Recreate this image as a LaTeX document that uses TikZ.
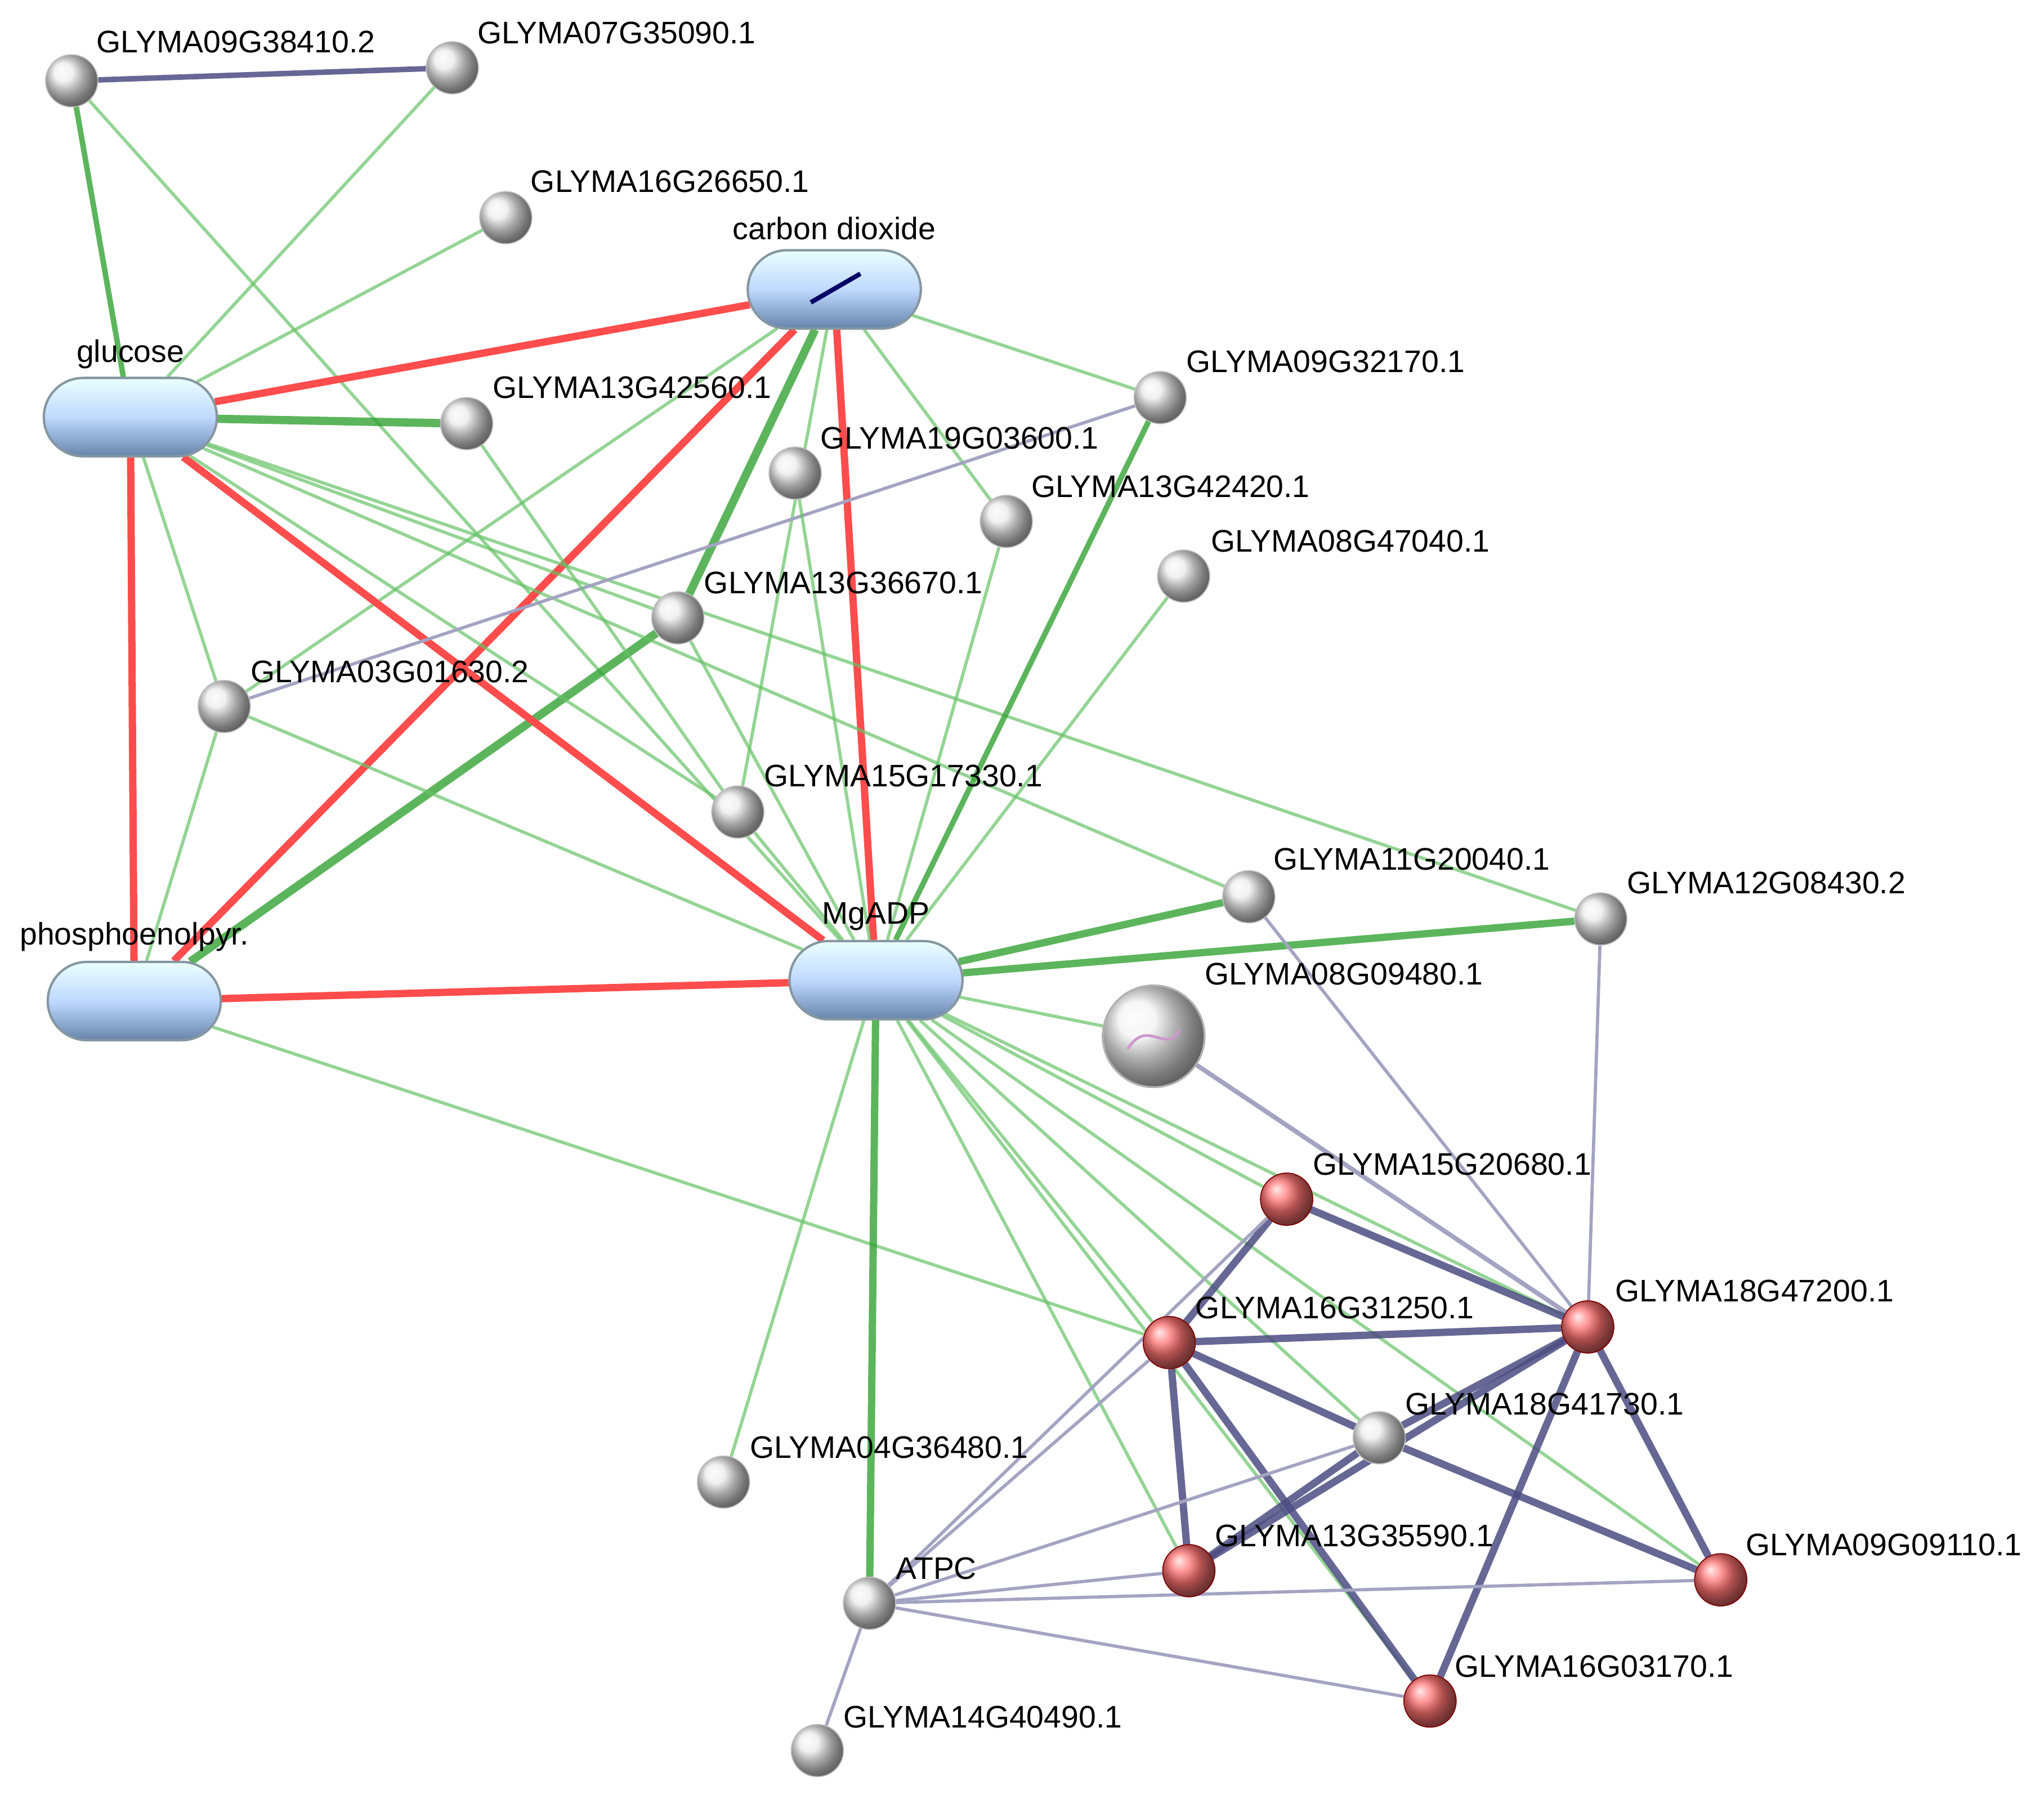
\documentclass[tikz,border=0pt]{standalone}
\usepackage{fontspec}
\setmainfont{Liberation Sans}
\usetikzlibrary{shapes.misc}
\begin{document}
\begin{tikzpicture}[x=0.01cm,y=-0.01cm,
 sp/.style={circle,minimum size=0.40cm,inner sep=0,ball color=white!85!gray,draw=gray!50,line width=0.2pt},
 rsp/.style={circle,minimum size=0.40cm,inner sep=0,ball color=red!55!white,draw=red!50!black,line width=0.2pt},
 pill/.style={rounded rectangle,minimum width=1.56cm,minimum height=0.6cm,draw=cyan!30!black!60,line width=0.5pt,top color=cyan!8!white,bottom color=cyan!45!blue!45!black!60,middle color=cyan!40!blue!25},
 lb/.style={font=\fontsize{6.8}{8}\selectfont,anchor=south west,inner sep=1pt},
 G/.style={draw=green!55!black!80,line width=1.2pt,opacity=.8},
 g/.style={draw=green!60!black!60,line width=0.7pt,opacity=.7},
 R/.style={draw=red!70,line width=1.6pt},
 D/.style={draw=blue!30!black!70,line width=1.6pt,opacity=.85},
 L/.style={draw=blue!20!gray!60,line width=0.7pt}]
\useasboundingbox (0,0) rectangle (1568,1387);
% nodes
\node[sp] (a) at (55,62) {}; \node[sp] (b) at (347,52) {}; \node[sp] (c) at (388,167) {};
\node[pill] (co2) at (640,222) {}; \node[pill] (glu) at (100,320) {};
\node[sp] (d) at (358,325) {}; \node[sp] (e) at (890,305) {}; \node[sp] (f) at (610,363) {};
\node[sp] (h) at (772,400) {}; \node[sp] (i) at (908,442) {}; \node[sp] (j) at (520,474) {};
\node[sp] (k) at (172,542) {}; \node[sp] (l) at (566,623) {}; \node[sp] (m) at (958,688) {};
\node[sp] (n) at (1228,705) {}; \node[pill] (pep) at (103,768) {}; \node[pill] (mg) at (672,752) {};
\node[circle,minimum size=0.78cm,inner sep=0,ball color=white!90!gray,draw=gray!60] (o) at (885,795) {};
\node[rsp] (p) at (987,920) {}; \node[rsp] (q) at (897,1030) {}; \node[rsp] (r) at (1218,1018) {};
\node[sp] (s) at (1058,1103) {}; \node[sp] (t) at (555,1137) {}; \node[sp] (u) at (667,1230) {};
\node[rsp] (v) at (912,1205) {}; \node[rsp] (w) at (1320,1212) {}; \node[rsp] (x) at (1097,1305) {};
\node[sp] (y) at (627,1343) {};
% edges
\draw[D,line width=1.2pt] (a)--(b); \draw[G] (a)--(glu); \draw[g] (b)--(glu); \draw[g] (a)--(mg);
\draw[g] (c)--(glu); \draw[R] (co2)--(glu); \draw[g] (co2)--(e); \draw[g] (co2)--(h);
\draw[R] (co2)--(mg); \draw[R] (co2)--(pep); \draw[G,line width=1.8pt] (co2)--(j); \draw[G,line width=1.8pt] (j)--(pep);
\draw[g] (co2)--(k); \draw[g] (co2)--(l); \draw[G,line width=1.8pt] (glu)--(d); \draw[R] (glu)--(mg);
\draw[R] (glu)--(pep); \draw[g] (glu)--(k); \draw[g] (glu)--(l); \draw[g] (glu)--(m); \draw[g] (glu)--(n);
\draw[g] (glu)--(j); \draw[L] (k)--(e); \draw[g] (d)--(l); \draw[g] (f)--(mg); \draw[g] (j)--(mg);
\draw[g] (k)--(pep); \draw[g] (k)--(mg); \draw[G] (e)--(mg); \draw[g] (h)--(mg); \draw[g] (i)--(mg);
\draw[g] (l)--(mg); \draw[G,line width=1.6pt] (m)--(mg); \draw[G,line width=1.6pt] (n)--(mg);
\draw[L] (m)--(r); \draw[L] (n)--(r); \draw[R] (pep)--(mg); \draw[g] (pep)--(q);
\draw[g] (mg)--(o); \draw[L,line width=1pt] (o)--(r);
\foreach \z in {p,r,s,w,v,q,x,t} \draw[g] (mg)--(\z);
\draw[G,line width=1.6pt] (mg)--(u);
\draw[D] (p)--(r); \draw[D] (p)--(q); \draw[D] (q)--(r); \draw[D] (q)--(s); \draw[D] (q)--(v); \draw[D] (q)--(x);
\draw[D] (r)--(s); \draw[D] (r)--(v); \draw[D] (r)--(w); \draw[D] (r)--(x); \draw[D] (s)--(w); \draw[D] (s)--(v);
\foreach \z in {s,q,p,v,w,x,y} \draw[L] (u)--(\z);
% redraw nodes on top
\foreach \z/\st in {a/sp,b/sp,c/sp,d/sp,e/sp,f/sp,h/sp,i/sp,j/sp,k/sp,l/sp,m/sp,n/sp,s/sp,t/sp,u/sp,y/sp,p/rsp,q/rsp,r/rsp,v/rsp,w/rsp,x/rsp}
 \node[\st] at (\z) {};
\node[circle,minimum size=0.78cm,inner sep=0,ball color=white!90!gray,draw=gray!60] at (o) {};
\draw[violet!40,line width=0.6pt] (865,805) .. controls (880,780) and (895,810) .. (905,790);
\node[pill] at (co2) {}; \node[pill] at (glu) {}; \node[pill] at (pep) {}; \node[pill] at (mg) {};
\draw[blue!40!black,line width=1pt] (622,232)--(660,210);
% labels
\node[lb] at (70,45) {GLYMA09G38410.2}; \node[lb] at (362,38) {GLYMA07G35090.1};
\node[lb] at (403,152) {GLYMA16G26650.1}; \node[lb,anchor=south] at (640,188) {carbon dioxide};
\node[lb,anchor=south] at (100,287) {glucose}; \node[lb] at (374,310) {GLYMA13G42560.1};
\node[lb] at (906,290) {GLYMA09G32170.1}; \node[lb] at (625,349) {GLYMA19G03600.1};
\node[lb] at (787,386) {GLYMA13G42420.1}; \node[lb] at (925,428) {GLYMA08G47040.1};
\node[lb] at (536,460) {GLYMA13G36670.1}; \node[lb] at (188,528) {GLYMA03G01630.2};
\node[lb] at (582,608) {GLYMA15G17330.1}; \node[lb] at (973,672) {GLYMA11G20040.1};
\node[lb] at (1244,690) {GLYMA12G08430.2}; \node[lb,anchor=south] at (103,734) {phosphoenolpyr.};
\node[lb,anchor=south] at (672,718) {MgADP}; \node[lb] at (920,760) {GLYMA08G09480.1};
\node[lb] at (1003,906) {GLYMA15G20680.1}; \node[lb] at (913,1016) {GLYMA16G31250.1};
\node[lb] at (1235,1003) {GLYMA18G47200.1}; \node[lb] at (1074,1090) {GLYMA18G41730.1};
\node[lb] at (571,1123) {GLYMA04G36480.1}; \node[lb] at (683,1216) {ATPC};
\node[lb] at (928,1191) {GLYMA13G35590.1}; \node[lb] at (1335,1198) {GLYMA09G09110.1};
\node[lb] at (1112,1291) {GLYMA16G03170.1}; \node[lb] at (643,1330) {GLYMA14G40490.1};
\end{tikzpicture}
\end{document}
